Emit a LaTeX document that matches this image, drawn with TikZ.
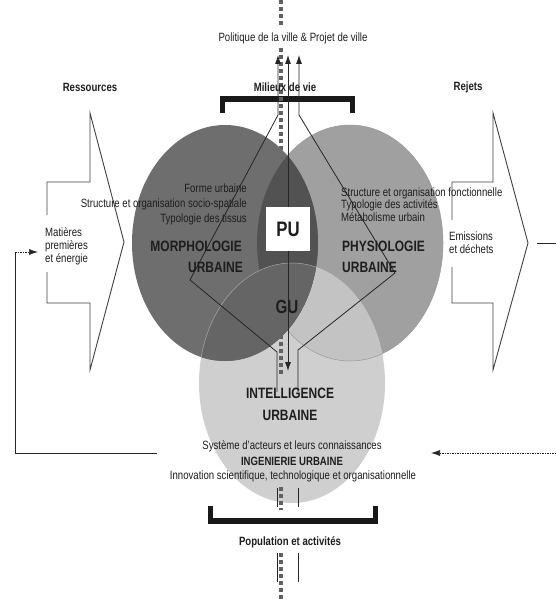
\documentclass[tikz,border=0pt]{standalone}
\usepackage{fontspec}
\setmainfont{Liberation Sans}[FakeStretch=0.8]
\usetikzlibrary{arrows.meta}

\definecolor{cLeft}{HTML}{6E6E6E}
\definecolor{cRight}{HTML}{A0A0A0}
\definecolor{cBottom}{HTML}{CFCFCF}
\definecolor{cLens}{HTML}{525252}
\definecolor{cRB}{HTML}{C3C3C3}
\definecolor{cInk}{HTML}{1E1E1E}

\tikzset{
  txt/.style={inner sep=0pt, text=cInk, font=\fontsize{12}{13}\selectfont},
  bld/.style={inner sep=0pt, text=cInk, font=\fontsize{12}{13}\selectfont\bfseries},
  big/.style={inner sep=0pt, text=cInk, font=\fontsize{15}{21}\selectfont\bfseries},
  thinln/.style={draw=black!85, line width=0.8pt},
  dotln/.style={draw=black!85, line width=0.7pt, dash pattern=on 1.5pt off 1pt},
  dashv/.style={draw=black!62, line width=4pt, dash pattern=on 4pt off 3pt},
  tipend/.style={-{Latex[length=9pt,width=6pt]}},
  bracketln/.style={draw=black!90, line width=5.5pt, line join=miter},
  blockln/.style={draw=black!75, line width=0.9pt, line join=miter},
}

\begin{document}
\begin{tikzpicture}[x=1pt,y=-1pt]
\useasboundingbox (0,0) rectangle (556,602);

% --- the three spheres
\fill[cRight] (350,243) ellipse [x radius=93pt, y radius=118pt];
\fill[cBottom] (292,383) ellipse [x radius=93pt, y radius=120pt];
\begin{scope}
  \clip (292,383) ellipse [x radius=93pt, y radius=120pt];
  \fill[cRB] (350,243) ellipse [x radius=93pt, y radius=118pt];
\end{scope}
\draw[black!40, line width=0.5pt] (350,243) ellipse [x radius=93pt, y radius=118pt];

% vertical axis behind the upper spheres
\coordinate (axA) at (281,48);
\coordinate (axB) at (281,376);
\draw[dashv] (axA) -- (axB);

\fill[cLeft] (225,243) ellipse [x radius=93pt, y radius=118pt];
\begin{scope}
  \clip (225,243) ellipse [x radius=93pt, y radius=118pt];
  \fill[cLens] (350,243) ellipse [x radius=93pt, y radius=118pt];
  \clip (292,383) ellipse [x radius=93pt, y radius=120pt];
  \fill[cLeft!92!black] (0,0) rectangle (556,602);
\end{scope}
\begin{scope}
  \clip (225,243) ellipse [x radius=93pt, y radius=118pt];
  \draw[black!35, line width=0.5pt] (292,383) ellipse [x radius=93pt, y radius=120pt];
\end{scope}

% --- brackets
\coordinate (mvA) at (222.5,113);
\coordinate (mvB) at (222.5,99);
\coordinate (mvC) at (352.5,99);
\coordinate (mvD) at (352.5,113);
\draw[bracketln] (mvA) -- (mvB) -- (mvC) -- (mvD);
\coordinate (paA) at (210.5,506);
\coordinate (paB) at (210.5,521);
\coordinate (paC) at (375.5,521);
\coordinate (paD) at (375.5,506);
\draw[bracketln] (paA) -- (paB) -- (paC) -- (paD);

% remaining axis segments
\coordinate (axT0) at (281,0);
\coordinate (axT1) at (281,26);
\draw[dashv] (axT0) -- (axT1);
\draw[dashv] (axA) -- (281,114);
\coordinate (axC) at (281,487);
\coordinate (axD) at (281,510);
\draw[dashv] (axC) -- (axD);
\coordinate (axE) at (281,553);
\coordinate (axF) at (281,602);
\draw[dashv] (axE) -- (axF);

% --- flow lines through the spheres
\coordinate (l0) at (277,392);
\coordinate (l1) at (277,352);
\coordinate (l2) at (190,280);
\coordinate (l3) at (278,115);
\coordinate (l4) at (278,55);
\draw[thinln, tipend] (l0) -- (l1) -- (l2) -- (l3) -- (l4);
\coordinate (r0) at (298,392);
\coordinate (r1) at (298,350);
\coordinate (r2) at (395,273);
\coordinate (r3) at (299,115);
\coordinate (r4) at (299,55);
\draw[thinln, tipend] (r0) -- (r1) -- (r2) -- (r3) -- (r4);
\coordinate (m0) at (288,371);
\coordinate (m1) at (288,55);
\draw[thinln, {Latex[length=9pt,width=6pt]}-{Latex[length=9pt,width=6pt]}] (m0) -- (m1);

\coordinate (b1a) at (277,488);
\coordinate (b1b) at (277,507);
\coordinate (b2a) at (298,488);
\coordinate (b2b) at (298,507);
\coordinate (b3a) at (277,553);
\coordinate (b3b) at (277,582);
\coordinate (b4a) at (298,553);
\coordinate (b4b) at (298,582);
\draw[thinln] (b1a) -- (b1b);
\draw[thinln] (b2a) -- (b2b);
\draw[thinln] (b3a) -- (b3b);
\draw[thinln] (b4a) -- (b4b);

% --- block arrows
\draw[blockln] (47,215) -- (47,182) -- (90,182) -- (90,113) -- (124,242)
  -- (90,370) -- (90,303) -- (47,303) -- (47,272);
\draw[blockln] (452,220) -- (452,182) -- (493,182) -- (493,113) -- (528,243)
  -- (493,370) -- (493,303) -- (452,303) -- (452,267);
\coordinate (rjA) at (537,243);
\coordinate (rjB) at (556,243);
\draw[thinln] (rjA) -- (rjB);

% --- feedback loops
\coordinate (fbA) at (157,453);
\coordinate (fbB) at (15,453);
\coordinate (fbC) at (15,252);
\coordinate (fbD) at (38,252);
\draw[thinln] (fbA) -- (fbB) -- (fbC);
\draw[dotln, tipend] (fbC) -- (fbD);
\coordinate (frA) at (556,453);
\coordinate (frB) at (431,453);
\draw[dotln, tipend] (frA) -- (frB);

% --- labels
\node[txt] (pol) at (293,38) {Politique de la ville \& Projet de ville};
\node[bld] (mil) at (285,87) {Milieux de vie};
\node[bld] (res) at (90,87) {Ressources};
\node[bld] (rej) at (468,87) {Rejets};
\node[txt, anchor=west, align=left, font=\fontsize{12}{13}\selectfont] (mat) at (45,246)
  {Matières\\premières\\et énergie};
\node[txt, anchor=west, align=left, font=\fontsize{12}{13}\selectfont] (emi) at (449,243)
  {Emissions\\et déchets};

\node[txt, anchor=east, align=right, font=\fontsize{12}{15}\selectfont] (morT) at (247,204)
  {Forme urbaine\\Structure et organisation socio-spatiale\\Typologie des tissus};
\node[big, anchor=east] (mor1) at (242,246) {MORPHOLOGIE};
\node[big, anchor=east] (mor2) at (243,267) {URBAINE};

\node[txt, anchor=west, align=left, font=\fontsize{12}{12.5}\selectfont] (phyT) at (341,204.5)
  {Structure et organisation fonctionnelle\\Typologie des activités\\Métabolisme urbain};
\node[big, anchor=west] (phy1) at (342,246) {PHYSIOLOGIE};
\node[big, anchor=west] (phy2) at (342,267) {URBAINE};

\node[fill=white, minimum width=44pt, minimum height=44pt, inner sep=0pt, text=cInk,
      font=\fontsize{21}{21}\selectfont\bfseries] (pu) at (288,229) {PU};
\node[inner sep=0pt, text=cInk, font=\fontsize{19}{19}\selectfont\bfseries] (gu) at (287,307) {GU};

\node[big] (int1) at (290,393) {INTELLIGENCE};
\node[big] (int2) at (290,415) {URBAINE};
\node[txt] (sys) at (292,446) {Système d'acteurs et leurs connaissances};
\node[bld] (ing) at (292,461) {INGENIERIE URBAINE};
\node[txt] (inn) at (293,476) {Innovation scientifique, technologique et organisationnelle};
\node[bld] (pop) at (290,542) {Population et activités};
\end{tikzpicture}
\end{document}
